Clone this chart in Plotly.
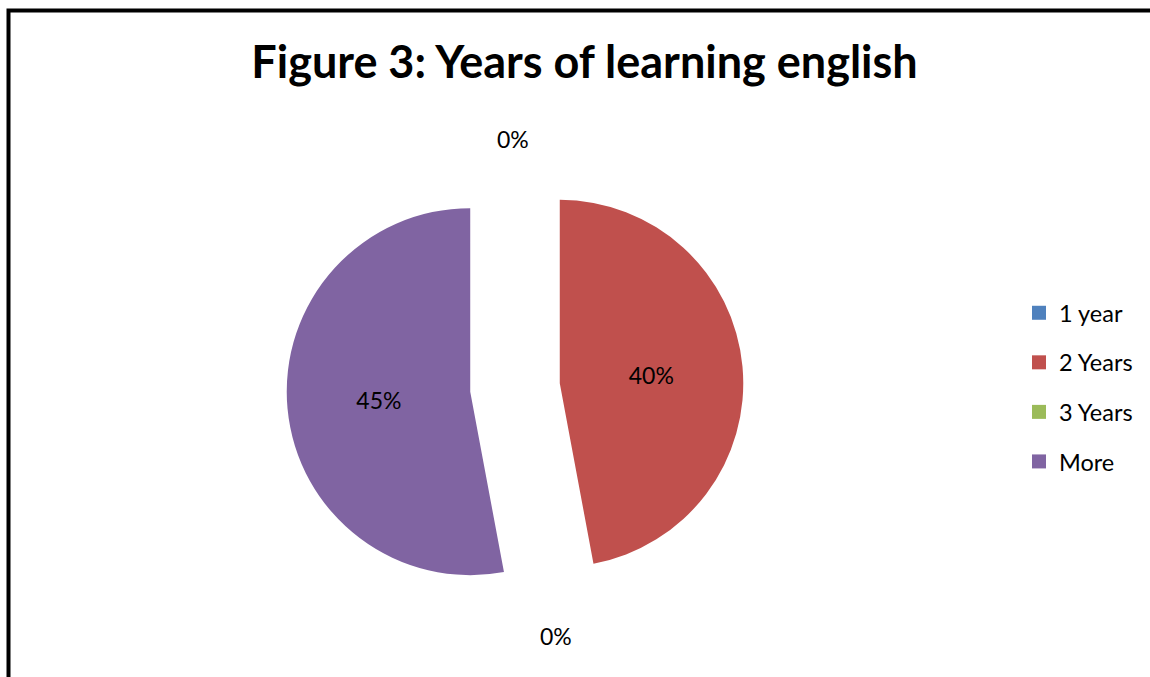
import plotly.graph_objects as go

categories = ["1 year", "2 Years", "3 Years", "More"]
values = [0, 40, 0, 45]
label_text = ["0%", "40%", "0%", "45%"]
colors = ["#4F81BD", "#C0504D", "#9BBB59", "#8064A2"]
pulls = [0, 0.245, 0, 0.245]

W, H = 1150, 677
FONT = "Lato"

# pie geometry (pixels)
cx, cy, r = 515, 387.5, 183.5
box = 2 * r * (1 + max(pulls))

fig = go.Figure()
fig.add_trace(go.Pie(
    labels=categories, values=values, text=label_text,
    textinfo="text", textposition="inside", insidetextorientation="horizontal",
    textfont=dict(family=FONT, size=23, color="black"),
    marker=dict(colors=colors, line=dict(width=0)),
    pull=pulls, sort=False, direction="clockwise", rotation=0,
    showlegend=False, hoverinfo="label+value",
    domain=dict(x=[(cx - box / 2) / W, (cx + box / 2) / W],
                y=[(H - cy - box / 2) / H, (H - cy + box / 2) / H]),
))

# legend entries
for i, (c, col) in enumerate(zip(categories, colors)):
    fig.add_trace(go.Scatter(
        x=[None], y=[None], mode="markers", name=c, legendgroup=c,
        marker=dict(symbol="square", size=14, color=col, line=dict(width=0)),
        showlegend=True, hoverinfo="skip",
    ))

# labels for zero-valued slices (drawn outside like the original)
zero_pos = {0: (513, 139), 2: (556, 636)}
for i, v in enumerate(values):
    if v == 0:
        px, py = zero_pos[i]
        fig.add_annotation(x=px / W, y=1 - py / H, xref="paper", yref="paper",
                           xanchor="center", yanchor="middle",
                           text=label_text[i], showarrow=False,
                           font=dict(family=FONT, size=23, color="black"))

fig.add_shape(type="rect", xref="paper", yref="paper",
              x0=8.5 / W, x1=1.2, y0=-0.2, y1=1 - 10.5 / H,
              line=dict(color="black", width=4), fillcolor="rgba(0,0,0,0)")

fig.update_layout(
    width=W, height=H,
    margin=dict(l=0, r=0, t=0, b=0),
    paper_bgcolor="white", plot_bgcolor="white",
    title=dict(text="<b>Figure 3: Years of learning english</b>",
               x=584.5 / W, xanchor="center", y=1 - 62 / H, yanchor="middle",
               xref="container", yref="container",
               font=dict(family=FONT, size=45, color="black")),
    xaxis=dict(visible=False), yaxis=dict(visible=False),
    legend=dict(x=1019 / W, xanchor="left", y=1 - 387.5 / H, yanchor="middle",
                traceorder="grouped", tracegroupgap=16,
                font=dict(family=FONT, size=23.5, color="black"),
                bgcolor="rgba(0,0,0,0)"),
    font=dict(family=FONT),
)

fig.write_html("out.html")
